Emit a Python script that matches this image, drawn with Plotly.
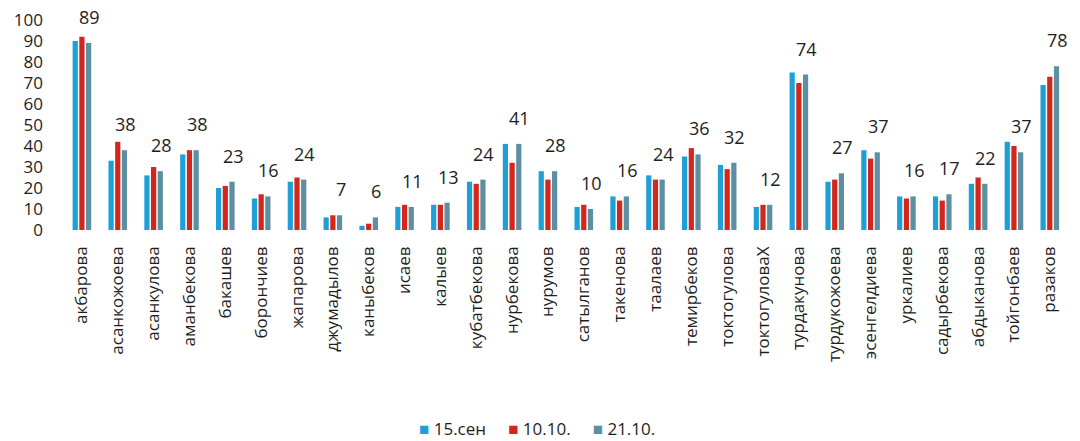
import plotly.graph_objects as go

categories = ["акбарова", "асанкожоева", "асанкулова", "аманбекова", "бакашев", "борончиев",
              "жапарова", "джумадылов", "каныбеков", "исаев", "калыев", "кубатбекова",
              "нурбекова", "нурумов", "сатылганов", "такенова", "таалаев", "темирбеков",
              "токтогулова", "токтогуловаX", "турдакунова", "турдукожоева", "эсенгелдиева",
              "уркалиев", "садырбекова", "абдыканова", "тойгонбаев", "разаков"]
s_sep15 = [90, 33, 26, 36, 20, 15, 23, 6, 2, 11, 12, 23, 41, 28, 11, 16, 26, 35, 31, 11, 75, 23, 38, 16, 16, 22, 42, 69]
s_oct10 = [92, 42, 30, 38, 21, 17, 25, 7, 3, 12, 12, 22, 32, 24, 12, 14, 24, 39, 29, 12, 70, 24, 34, 15, 14, 25, 40, 73]
s_oct21 = [89, 38, 28, 38, 23, 16, 24, 7, 6, 11, 13, 24, 41, 28, 10, 16, 24, 36, 32, 12, 74, 27, 37, 16, 17, 22, 37, 78]
series_names = ["15.сен", "10.10.", "21.10."]
y_ticks = [0, 10, 20, 30, 40, 50, 60, 70, 80, 90, 100]

colors = ["#1e9fd6", "#d3261c", "#5d8fa2"]
font = "Open Sans"
txt = "#1e1e1e"

W, H = 1080, 441
ML, MR, MT, MB = 64, 10, 20, 211
BARGAP, GROUPGAP = 0.44, 0.22

fig = go.Figure()
for name, vals, col in zip(series_names, [s_sep15, s_oct10, s_oct21], colors):
    fig.add_trace(go.Bar(x=categories, y=vals, name=name, marker_color=col,
                         marker_line_width=0, showlegend=False))

# data labels above the 21.10. bars
cat_w = (W - ML - MR) / len(categories)
slot = cat_w * (1 - BARGAP) / 3
for c, v in zip(categories, s_oct21):
    fig.add_annotation(x=c, y=v, text=str(v), showarrow=False, yanchor="bottom",
                       xshift=slot + 1, yshift=12,
                       font=dict(size=18, color=txt, family=font))

# compact legend
legend_html = "&nbsp;&nbsp;&nbsp;&nbsp;&nbsp;".join(
    f"<span style='color:{col}'>■</span>&nbsp;{name}" for name, col in zip(series_names, colors))
plot_h = H - MT - MB
fig.add_annotation(xref="paper", yref="paper", x=0.47, y=((H - MB) - 428) / plot_h,
                   yanchor="middle", xanchor="center", text=legend_html, showarrow=False,
                   font=dict(size=17, color=txt, family=font))

fig.update_layout(
    width=W, height=H,
    margin=dict(l=ML, r=MR, t=MT, b=MB, autoexpand=False),
    barmode="group", bargap=BARGAP, bargroupgap=GROUPGAP,
    plot_bgcolor="white", paper_bgcolor="white",
    font=dict(family=font, color=txt),
    showlegend=False,
    xaxis=dict(tickangle=-90, tickfont=dict(size=17, color=txt), showline=False,
               ticks="", ticklabelstandoff=12, automargin=False),
    yaxis=dict(range=[0, 100], tickvals=y_ticks, showgrid=False, zeroline=False,
               showline=False, tickfont=dict(size=17, color=txt), ticklabelstandoff=20,
               automargin=False),
)
fig.write_html("out.html", config={"displayModeBar": False},
               post_script="document.body.style.margin='0';")
